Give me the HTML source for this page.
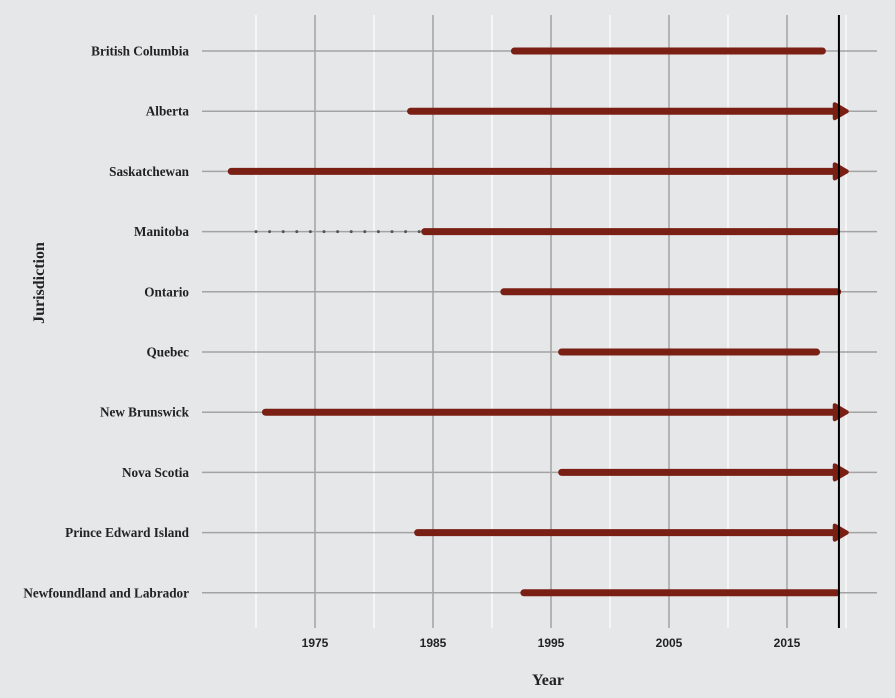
<!DOCTYPE html>
<html><head><meta charset="utf-8"><style>
body{margin:0;background:#e6e7e9;}
svg{display:block;font-family:"Liberation Sans",sans-serif;}
</style></head><body>
<svg width="895" height="698" id="c">
<rect x="0" y="0" width="895" height="698" fill="#e6e7e9"/>
<g id="grid"></g>
<g id="marks"></g>
<g id="labels"></g>
<text x="548" y="685" text-anchor="middle" font-size="16" font-weight="bold" fill="#222" font-family="Liberation Serif, serif">Year</text>
<text transform="translate(44,283) rotate(-90)" text-anchor="middle" font-size="16" font-weight="bold" fill="#222" font-family="Liberation Serif, serif">Jurisdiction</text>
</svg>
<script>
const jurisdictions=["British Columbia","Alberta","Saskatchewan","Manitoba","Ontario","Quebec","New Brunswick","Nova Scotia","Prince Edward Island","Newfoundland and Labrador"];
const startYears=[1991.9,1983.1,1967.9,1984.3,1991.0,1995.9,1970.8,1995.9,1983.7,1992.7];
const endYears=[2018.0,2019.3,2019.3,2019.2,2019.3,2017.5,2019.3,2019.3,2019.3,2019.2];
const ongoing=[false,true,true,false,false,false,true,true,true,false];
const dottedStart=[null,null,null,1970,null,null,null,null,null,null];
const majorTicks=[1975,1985,1995,2005,2015];
const minorTicks=[1970,1980,1990,2000,2010,2020];
const refYear=2019.4;
const NS="http://www.w3.org/2000/svg";
const x=y=>315+(y-1975)*11.8;
const yPos=i=>51+i*60.2;
function mk(p,t,a){const e=document.createElementNS(NS,t);for(const k in a)e.setAttribute(k,a[k]);p.appendChild(e);return e;}
const g=document.getElementById('grid'),m=document.getElementById('marks'),L=document.getElementById('labels');
minorTicks.forEach(t=>{const e=mk(g,'line',{x1:x(t),x2:x(t),y1:15,y2:628,stroke:'#ffffff','stroke-width':1.2});

});
majorTicks.forEach(t=>{const e=mk(g,'line',{x1:x(t),x2:x(t),y1:15,y2:628,stroke:'#a3a3a3','stroke-width':1.5});


const tx=mk(L,'text',{x:x(t),y:647,'text-anchor':'middle','font-size':12,'font-weight':'bold',fill:'#222'});tx.textContent=t;

});
jurisdictions.forEach((j,i)=>{const y=yPos(i);
const h=mk(g,'line',{x1:202,x2:877,y1:y,y2:y,stroke:'#a3a3a3','stroke-width':1.5});


const tx=mk(L,'text',{x:189,y:y+4.5,'text-anchor':'end','font-size':13.2,'font-weight':'bold',fill:'#222','font-family':'Liberation Serif, serif'});tx.textContent=j;


if(dottedStart[i]!==null){const d=mk(m,'line',{x1:x(dottedStart[i]),x2:x(startYears[i]),y1:y,y2:y,stroke:'#555','stroke-width':3,'stroke-dasharray':'0 13.6','stroke-linecap':'round'});

}
const s=mk(m,'line',{x1:x(startYears[i]),x2:x(endYears[i]),y1:y,y2:y,stroke:'#7a1f14','stroke-width':7,'stroke-linecap':'round'});


if(ongoing[i]){const b=x(endYears[i])-3;const a=mk(m,'path',{d:`M${b},${y-7} L${b+12},${y} L${b},${y+7} Z`,fill:'#7a1f14',stroke:'#7a1f14','stroke-width':4,'stroke-linejoin':'round'});

}
});
const r=mk(m,'line',{x1:x(refYear),x2:x(refYear),y1:15,y2:628,stroke:'#000','stroke-width':2});


</script>
</body></html>
